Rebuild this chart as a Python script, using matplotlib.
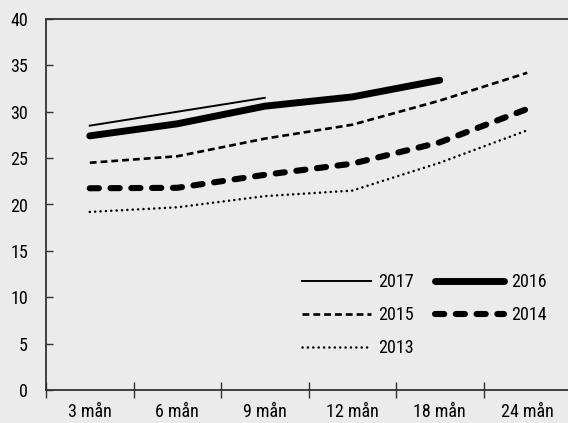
import numpy as np
import matplotlib
matplotlib.use("Agg")
import matplotlib.pyplot as plt

plt.rcParams['font.family'] = ['Roboto Condensed', 'DejaVu Sans']

categories = ["3 mån", "6 mån", "9 mån", "12 mån", "18 mån", "24 mån"]

y2017 = [28.5, 30.0, 31.5]
y2016 = [27.4, 28.7, 30.6, 31.6, 33.4]
y2015 = [24.5, 25.2, 27.1, 28.6, 31.2, 34.2]
y2014 = [21.75, 21.8, 23.2, 24.4, 26.7, 30.3]
y2013 = [19.2, 19.7, 20.9, 21.5, 24.5, 28.0]

bg = "#ebebeb"
fig = plt.figure(figsize=(5.68, 4.23), dpi=100, facecolor=bg)
ax = fig.add_axes([46/568, 33/423, 525/568, 371/423])
ax.set_facecolor(bg)

pos = np.arange(len(categories)) + 0.5

l17, = ax.plot(pos[:len(y2017)], y2017, color="black", lw=1.4, label="2017")
l16, = ax.plot(pos[:len(y2016)], y2016, color="black", lw=5, solid_capstyle="round",
               solid_joinstyle="round", label="2016")
l15, = ax.plot(pos, y2015, color="black", lw=1.9, dashes=(2.6, 1.5), label="2015")
l14, = ax.plot(pos, y2014, color="black", lw=4.4, dashes=(1.5, 1.9),
               dash_capstyle="round", label="2014")
l13, = ax.plot(pos, y2013, color="black", lw=1.8, dashes=(0.05, 2.1),
               dash_capstyle="round", label="2013")

ax.set_xlim(0, 6)
ax.set_ylim(0, 40)
ax.set_yticks(range(0, 41, 5))
ax.set_xticks(range(0, 7))
ax.set_xticklabels([])
ax.set_xticks(pos, minor=True)
ax.set_xticklabels(categories, minor=True)

for s in ["left", "top", "bottom"]:
    ax.spines[s].set_color("#333333")
    ax.spines[s].set_linewidth(1.3)
ax.spines["right"].set_visible(False)

ax.tick_params(axis="y", direction="in", length=5, width=1, color="#333333",
               labelsize=13, pad=13)
ax.tick_params(axis="x", which="major", direction="inout", length=12, width=1,
               color="#333333")
ax.tick_params(axis="x", which="minor", length=0, labelsize=13, pad=9)

leg = ax.legend([l17, l15, l13, l16, l14], ["2017", "2015", "2013", "2016", "2014"],
                ncol=2, frameon=False, loc="upper left", bbox_to_anchor=(0.488, 0.315),
                borderaxespad=0, borderpad=0,
                fontsize=13, handlelength=3.8, labelspacing=0.83,
                columnspacing=1.2, handletextpad=0.4)

fig.savefig("out.png", dpi=100, facecolor=bg)
